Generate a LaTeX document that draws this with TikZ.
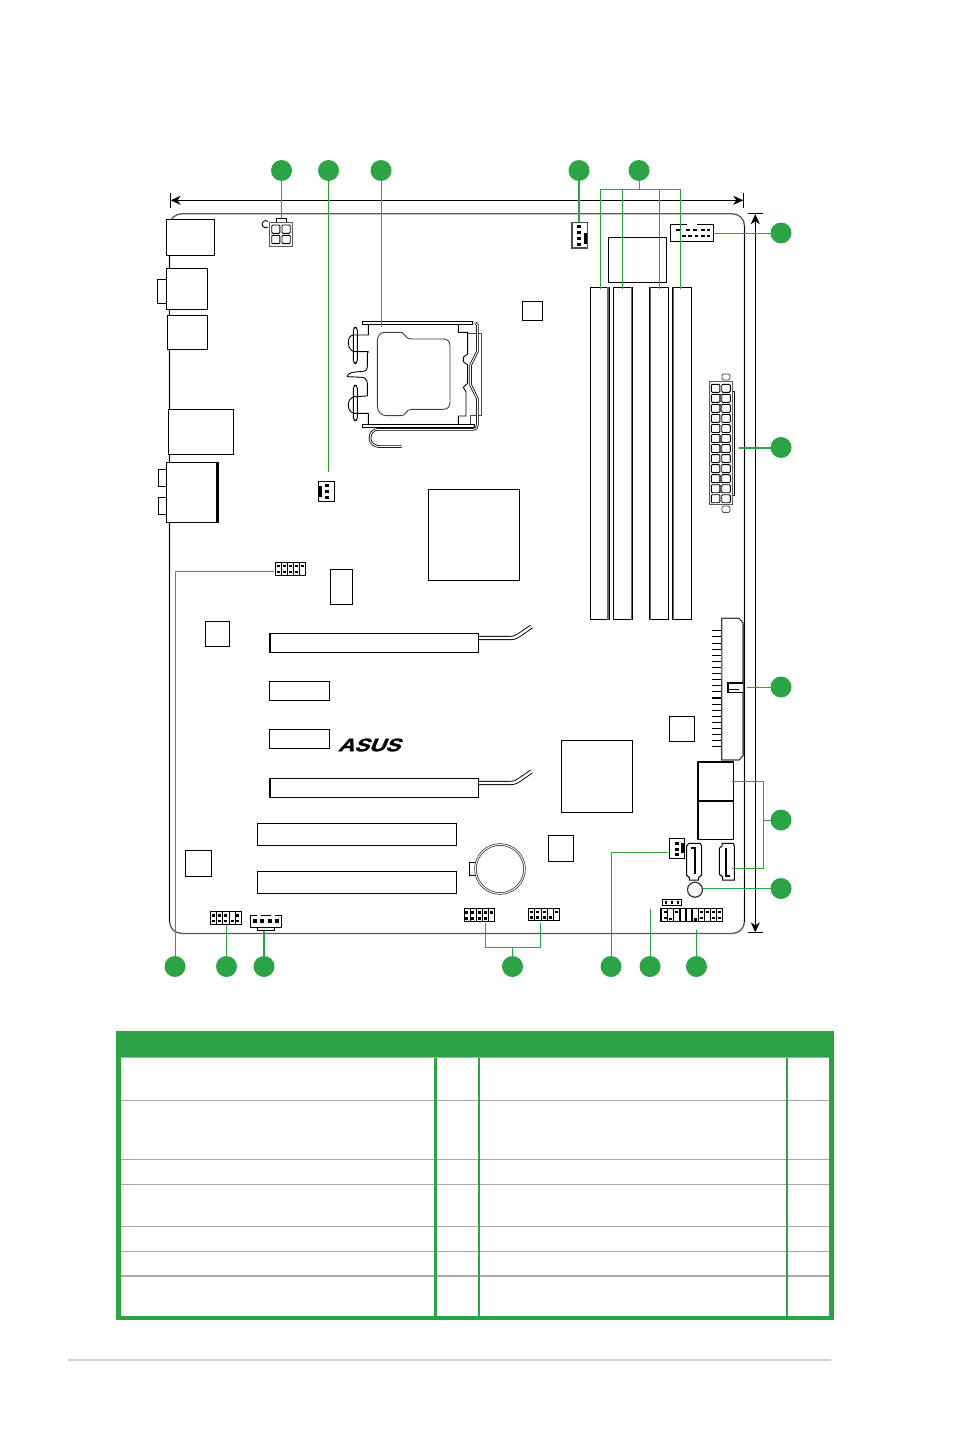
\documentclass[tikz,border=0pt]{standalone}
\usepackage{fontspec}
\usetikzlibrary{arrows.meta}
\newfontfamily\logofont[BoldFeatures={FakeBold=1.5}]{Liberation Sans}
\definecolor{badgegreen}{RGB}{44,163,69}
\definecolor{rulegray}{RGB}{167,169,172}
\definecolor{pagegray}{RGB}{209,210,211}
\tikzset{
    part/.style={draw, fill=white, line width=1pt, inner sep=0pt, outer sep=0pt},
    grayedge/.style={part, draw=black!65, line width=1.3pt},
    badge/.style={circle, fill=badgegreen, minimum size=21pt, inner sep=0pt, outer sep=0pt},
    lead/.style={draw=badgegreen, line width=1pt},
    thicklead/.style={draw=badgegreen, line width=2pt},
    dimline/.style={line width=.9pt, arrows={Bar[width=15pt,line width=.9pt].Stealth[length=10pt,width=9pt,inset=3pt]-Stealth[length=10pt,width=9pt,inset=3pt].Bar[width=15pt,line width=.9pt]}},
    lever/.style={draw=black, double=white, double distance=1pt, line width=.8pt, line join=round},
    thin/.style={line width=.9pt, line join=round},
}
\begin{document}
\begin{tikzpicture}[x=1pt, y=-1pt]
    \useasboundingbox (0, 0) rectangle (954, 1437);
    % board outline
    \node[grayedge, rounded corners=12pt, minimum width=575pt, minimum height=719.6pt] (board) at (457, 573.6) {};
    \draw[line width=1pt] (169.5, 226) -- (169.5, 922);
    \draw[line width=1pt] (744.5, 226) -- (744.5, 922);
    % back panel
    \node[part, minimum width=48pt, minimum height=36pt] (kbport) at (190.3, 237.3) {};
    \node[part, minimum width=9pt, minimum height=24pt] (optictab) at (161.8, 291.3) {};
    \node[part, minimum width=41.2pt, minimum height=41pt] (optic) at (186.9, 288.8) {};
    \node[part, minimum width=40.2pt, minimum height=34pt] (esata) at (187.4, 332.3) {};
    \node[part, minimum width=65pt, minimum height=44.7pt] (lanport) at (200.8, 431.65) {};
    \node[part, minimum width=8pt, minimum height=17.4pt] (audiotaba) at (162.3, 478) {};
    \node[part, minimum width=8pt, minimum height=17.4pt] (audiotabb) at (162.3, 506) {};
    \node[part, minimum width=52pt, minimum height=60pt] (audio) at (192.3, 492.3) {};
    \draw[line width=2pt] ([xshift=-1pt]audio.north east) -- ([xshift=-1pt]audio.south east);
    % 4 pin power
    \node[part, minimum width=10pt, minimum height=4pt] (atxtab) at (281.5, 220.3) {};
    \node[grayedge, minimum width=23.4pt, minimum height=24pt] (atxfour) at (281, 234.3) {};
    \draw[thin] (268, 227) arc[start angle=50, end angle=310, radius=3.6];
    \foreach \i in {271.7, 282}
        \foreach \j in {225, 235.3}
            \draw[thin, rounded corners=1pt] (\i, \j) rectangle ++(8.2, 8.3);
    % cpu socket
    \begin{scope}[shift={(150, 150)}, x=.3333pt, y=-.3333pt]
        \draw[part] (637, 514) rectangle (968, 523);
        \draw[part] (637, 824) rectangle (974, 833);
        \draw[thin, rounded corners=3pt] (610, 532) rectangle (622, 640);
        \draw[thin, rounded corners=3pt] (610, 706) rectangle (622, 812);
        \draw[thin] (655, 525) -- (655, 555) -- (612, 555) .. controls (600, 555) and (595, 565) .. (595, 578) .. controls (595, 595) and (605, 605) .. (615, 605) -- (655, 605) -- (652, 612) -- (652, 650) .. controls (652, 660) and (645, 664) .. (635, 665) .. controls (612, 665) and (592, 668) .. (592, 680) -- (635, 682) .. controls (645, 682) and (652, 690) .. (652, 700) -- (652, 738) -- (615, 740) .. controls (602, 742) and (595, 752) .. (595, 765) .. controls (595, 780) and (603, 790) .. (615, 790) -- (655, 790) -- (655, 822);
        \draw[thin, draw=black!75] (682, 575) .. controls (682, 555) and (692, 547) .. (705, 547) -- (755, 547) .. controls (765, 550) and (765, 567) .. (785, 567) -- (880, 567) .. controls (893, 567) and (900, 575) .. (900, 587) -- (900, 758) .. controls (900, 770) and (893, 778) .. (880, 778) -- (785, 778) .. controls (768, 778) and (768, 797) .. (755, 797) -- (710, 797) .. controls (692, 797) and (682, 785) .. (682, 765) -- cycle;
        \draw[thin] (925, 523) -- (925, 547) -- (953, 547) -- (953, 612) -- (940, 622) -- (940, 635) -- (953, 645) -- (953, 700) -- (940, 712) -- (948, 725) -- (948, 798) -- (925, 798) -- (925, 822);
        \draw[thin, draw=black!70] (953, 550) -- (995, 550) -- (995, 795) -- (960, 795) -- (960, 822);
        \draw[lever] (976, 518) -- (982, 525) -- (982, 605) -- (962, 645) -- (962, 705) -- (982, 745) -- (982, 825) .. controls (982, 834) and (978, 838) .. (970, 838) -- (685, 838) .. controls (668, 838) and (660, 852) .. (660, 865) .. controls (660, 880) and (675, 890) .. (690, 890) -- (755, 890);
    \end{scope}
    % chips
    \node[part, minimum width=20.4pt, minimum height=19pt] (chipa) at (532.5, 310.8) {};
    \node[part, minimum width=58.4pt, minimum height=45pt] (chipb) at (637.5, 259.8) {};
    \node[part, minimum width=91pt, minimum height=91pt] (northbridge) at (474, 535) {};
    \node[part, minimum width=22.5pt, minimum height=35pt] (chipc) at (341.3, 586.5) {};
    \node[part, minimum width=24pt, minimum height=25pt] (chipd) at (217.5, 633.5) {};
    \node[part, minimum width=71pt, minimum height=72pt] (southbridge) at (597, 776.5) {};
    \node[part, minimum width=25pt, minimum height=25pt] (chipe) at (681.8, 728.8) {};
    \node[part, minimum width=25pt, minimum height=25.5pt] (chipf) at (561, 848.3) {};
    \node[part, minimum width=25.5pt, minimum height=25.5pt] (chipg) at (198.3, 863.3) {};
    % memory slots
    \foreach \d/\x in {dimma/599.65, dimmb/622.8, dimmc/659.2, dimmd/682.2} {
        \node[part, minimum width=18.8pt, minimum height=332.2pt] (\d) at (\x, 453.4) {};
    }
    \draw[draw=black!60, line width=1.2pt] ([xshift=-1pt]dimma.north east) -- ([xshift=-1pt]dimma.south east);
    \draw[draw=black!60, line width=1.2pt] ([xshift=-.5pt]dimmb.north east) -- ([xshift=-.5pt]dimmb.south east);
    \draw[draw=black!60, line width=1.2pt] ([xshift=1pt]dimmc.north west) -- ([xshift=1pt]dimmc.south west);
    \draw[draw=black!60, line width=1.2pt] ([xshift=1pt]dimmd.north west) -- ([xshift=1pt]dimmd.south west);
    % expansion slots
    \foreach \y/\n in {0/pcieb, 145/pciec} {
        \draw[lever, line width=.9pt, double distance=2.4pt] (478.5, 638+\y) -- (510, 638+\y) .. controls (515, 638+\y) and (517, 636.5+\y) .. (520, 634.5+\y) -- (531.5, 626.5+\y);
        \node[part, minimum width=209pt, minimum height=19pt] (\n) at (374, 642.8+\y) {};
        \draw[line width=1.4pt] ([xshift=.7pt]\n.north west) -- ([xshift=.7pt]\n.south west);
    }
    \node[part, minimum width=60pt, minimum height=19.5pt] (pcixa) at (299.5, 690.8) {};
    \node[part, minimum width=60pt, minimum height=19pt] (pcixb) at (299.5, 739) {};
    \node[part, minimum width=199pt, minimum height=22.5pt] (pcia) at (357, 834.3) {};
    \node[part, minimum width=199pt, minimum height=22pt] (pcib) at (357, 882.5) {};
    \node[transform shape, xscale=1.24, xslant=.35, inner sep=0pt] (logo) at (371.5, 745) {\logofont\bfseries\fontsize{18}{18}\selectfont ASUS};
    % 24 pin power
    \draw[thin, draw=black!70, rounded corners=1.5pt] (722, 374) rectangle (730, 380);
    \draw[thin, draw=black!70, rounded corners=1.5pt] (722, 506) rectangle (730, 512.5);
    \draw[thin] (733, 391.3) -- (734.7, 391.3) -- (734.7, 495.3) -- (733, 495.3);
    \node[grayedge, minimum width=23.4pt, minimum height=123.4pt] (atxmain) at (721, 443) {};
    \foreach \j in {0, ..., 11} {
        \draw[thin, rounded corners=1pt] (711.3, 384.3+10.04*\j) rectangle ++(8.6, 8);
        \draw[thin, rounded corners=1pt] (721.7, 384.3+10.04*\j) rectangle ++(8.6, 8);
    }
    \foreach \j in {1, 2, 5, 6, 9, 10}
        \fill[black!65] (719.9, 384.3+10.04*\j) rectangle ++(1.8, 8);
    % ide
    \foreach \j in {0, ..., 19} {
        \draw[line width=.7pt] (712, 630.7+6.1*\j) -- (721.7, 630.7+6.1*\j);
    }
    \foreach \j in {0, 6, 7, 8, 9, 10, 11, 17, 18, 19} {
        \draw[line width=1.5pt] (712, 630.7+6.1*\j) -- (721.7, 630.7+6.1*\j);
    }
    \draw[draw=black!75, fill=white, line width=1.2pt] (721.7, 618.3) -- (739, 618.3) -- (743, 622.7) -- (743, 755.7) -- (739, 760) -- (721.7, 760) -- cycle;
    \draw[draw=black!70, line width=1.3pt] (743.2, 624) -- (743.2, 755);
    \draw[line width=1.6pt, fill=white] (743, 682.8) -- (727.7, 682.8) -- (727.7, 692.5) -- (743, 692.5);
    \draw[line width=1.4pt] (729, 689.5) -- (739, 689.5);
    % sata
    \node[part, minimum width=36pt, minimum height=38.7pt] (satab) at (715.7, 820) {};
    \node[part, minimum width=36pt, minimum height=38.7pt] (sataa) at (715.7, 781.3) {};
    \draw[line width=2pt] (698, 839.3) -- (698, 762) -- (733.7, 762);
    \draw[line width=2pt] (698, 800.7) -- (733.7, 800.7);
    \draw[part] (688.7, 843.3) -- (700, 843.3) -- (701.7, 846) -- (701.7, 875) -- (698.5, 877.7) -- (698.5, 880) -- (689.3, 880) -- (689.3, 877.7) -- (686.7, 875) -- (686.7, 846) -- cycle;
    \draw[line width=1.8pt] (691, 847.7) -- (695, 847.7) -- (695, 874.3);
    \draw[part] (722, 843.3) -- (733, 843.3) -- (734.3, 846) -- (734.3, 880) -- (722.7, 880) -- (722.7, 876.7) -- (719.3, 874.3) -- (719.3, 848.3) -- (722, 846) -- cycle;
    \draw[line width=1.8pt] (726, 848.3) -- (726, 875.7) -- (730, 875.7);
    % battery and buzzer
    \node[part, minimum width=8pt, minimum height=12.7pt] (battab) at (473, 869.3) {};
    \node[part, circle, draw=black!85, double, double distance=1pt, line width=.7pt, minimum size=49pt] (battery) at (500, 869) {};
    \node[part, circle, draw=black!80, line width=1.2pt, minimum size=15pt] (buzzer) at (695, 889.7) {};
    % headers
    \node[part, minimum width=43.4pt, minimum height=17pt] (comhdr) at (692, 232.8) {};
    \draw[white, line width=1.4pt] (687, 224.3) -- (697, 224.3);
    \foreach \i/\j in {678/228.5, 688/228.5, 695/228.5, 703/228.5, 708.5/228.5, 684/234.5, 690/234.5, 696.5/234.5, 703/234.5, 708.5/234.5}
        \fill (\i-1.6, \j) rectangle ++(3.2, 2.4);
    \node[part, draw=black!70, line width=1.2pt, minimum width=15.7pt, minimum height=25.7pt] (fantop) at (579.85, 235.2) {};
    \foreach \j in {224.8, 230.8, 236.6, 242.5}
        \fill (577, \j) rectangle ++(4, 3.4);
    \fill (584, 233.3) rectangle (587.3, 244);
    \node[part, line width=1.3pt, minimum width=16pt, minimum height=20pt] (fancpu) at (326.3, 491.3) {};
    \fill (318.3, 485.7) rectangle (322, 497);
    \foreach \j in {483.5, 489.5, 495.5}
        \fill (325, \j) rectangle ++(4, 3.2);
    \node[part, minimum width=30.4pt, minimum height=13pt] (hdrspdif) at (290.5, 568.8) {};
    \foreach \i in {281.3, 287.3, 293.3, 299.3}
        \draw (\i, 562.3) -- (\i, 575.3);
    \foreach \i/\j in {278.3/564.5, 278.3/570.5, 284.3/564.5, 284.3/570.5, 290.3/564.5, 290.3/570.5, 296.3/564.5, 296.3/570.5, 302.3/564.5}
        \fill (\i-1.5, \j) rectangle ++(3, 2.6);
    \node[part, minimum width=31pt, minimum height=12.7pt] (hdraudio) at (225.8, 918.3) {};
    \foreach \i in {216.5, 222.5, 229, 235}
        \draw (\i, 912) -- (\i, 924.7);
    \foreach \i/\j in {213.3/914, 219.7/914, 225.7/914, 237.8/914, 213.3/919.5, 219.7/919.5, 225.7/919.5, 232/919.5, 237.8/919.5}
        \fill (\i-1.5, \j) rectangle ++(3, 2.6);
    \node[part, minimum height=3.3pt, minimum width=17.4pt, line width=1.4pt] (fanchaledge) at (266, 929) {};
    \node[part, minimum width=31.4pt, minimum height=12pt] (fancha) at (266, 921.3) {};
    \draw[white, line width=1.2pt] (257, 915.3) -- (261, 915.3) (271, 915.3) -- (275, 915.3);
    \foreach \i in {255, 262.3, 269.7, 277}
        \fill (\i-2, 919.3) rectangle ++(4, 3.4);
    \node[part, line width=1.2pt, minimum width=30.4pt, minimum height=13.4pt] (usba) at (479.5, 915) {};
    \foreach \i in {469.7, 475.8, 482, 488}
        \draw (\i, 908.3) -- (\i, 921.7);
    \foreach \i/\j in {466.7/911, 472.7/911, 479/911, 485/911, 491/911, 466.7/917, 472.7/917, 479/917, 485/917}
        \fill (\i-1.5, \j) rectangle ++(3, 2.6);
    \node[part, minimum width=31.4pt, minimum height=12.4pt] (usbb) at (544, 914.5) {};
    \foreach \i in {534.5, 541, 547, 553}
        \draw (\i, 908.3) -- (\i, 920.7);
    \foreach \i/\j in {531/910.5, 537.7/910.5, 544/910.5, 556.3/910.5, 531/916, 537.7/916, 544/916, 550/916}
        \fill (\i-1.5, \j) rectangle ++(3, 2.6);
    \node[part, minimum width=15.4pt, minimum height=20pt] (fansys) at (677, 848.3) {};
    \foreach \j in {842, 848, 853.3}
        \fill (675, \j) rectangle ++(3.6, 3);
    \fill (681, 843.3) rectangle (684.3, 853.3);
    \node[part, minimum width=19.4pt, minimum height=6.4pt] (jumper) at (672, 902.5) {};
    \foreach \i in {666, 672, 678}
        \fill (\i-1.3, 901) rectangle ++(2.6, 3);
    \node[part, line width=1.5pt, minimum width=61.7pt, minimum height=13.4pt] (panel) at (691.8, 915) {};
    \foreach \i in {667.8, 673.8, 680, 686, 692, 698.5, 704.6, 710.7, 716.8}
        \draw[line width=1.1pt] (\i, 908.3) -- (\i, 921.7);
    \foreach \i/\j in {665/910.5, 665/916.5, 670.7/917.5, 676.7/910.5, 695.3/918, 701.7/910.5, 701.7/916.5, 707.7/910.5, 713.7/910.5, 713.7/916.5, 719.7/910.5, 719.7/916.5}
        \fill (\i-1.5, \j) rectangle ++(3, 2.6);
    % dimension arrows
    \coordinate (widthl) at (169.7, 200.3);
    \coordinate (widthr) at (744.2, 200.3);
    \coordinate (heightt) at (755.3, 213.3);
    \coordinate (heightb) at (755.3, 933.3);
    \draw[dimline] (widthl) -- (widthr);
    \draw[dimline] (heightt) -- (heightb);
    % callouts
    \foreach \n/\x in {topa/281.5, topb/328.5, topc/381, topd/579, tope/639} {
        \node[badge] (\n) at (\x, 170.5) {};
    }
    \foreach \n/\y in {righta/233, rightb/447.5, rightc/687, rightd/820, righte/888.5} {
        \node[badge] (\n) at (781, \y) {};
    }
    \foreach \n/\x in {bota/175, botb/226.5, botc/264, botd/512.5, bote/611, botf/650, botg/696.5} {
        \node[badge] (\n) at (\x, 966.5) {};
    }
    \coordinate (fanend) at (328.5, 472);
    \coordinate (cpuend) at (381, 326.7);
    \coordinate (ramfork) at (639, 189.5);
    \coordinate (atxend) at (739, 447.5);
    \coordinate (ideend) at (746.7, 687);
    \coordinate (satafork) at (763.7, 820);
    \coordinate (sataenda) at (732.3, 781.3);
    \coordinate (sataendb) at (732.3, 868.3);
    \coordinate (spdifend) at (274, 571);
    \coordinate (usbfork) at (512.5, 947.3);
    \coordinate (usbenda) at (485.7, 923.3);
    \coordinate (usbendb) at (540.3, 923.3);
    \coordinate (sysend) at (668.3, 852.3);
    \coordinate (jumperend) at (650, 909);
    \coordinate (panelend) at (696.5, 930);
    \draw[lead] (topa) -- (atxtab.north);
    \draw[lead] (topb) -- (fanend);
    \draw[lead] (topc) -- (cpuend);
    \draw[thicklead] (topd) -- (topd |- fantop.north);
    \draw[lead] (tope) -- (ramfork);
    \foreach \d/\s in {dimma/.65, dimmb/-.5, dimmc/0, dimmd/-1.9}
        \draw[lead] ([xshift=\s pt, yshift=-2pt]\d.north) |- (ramfork);
    \draw[lead] (righta) -- (righta -| comhdr.east);
    \draw[thicklead] (rightb) -- (atxend);
    \draw[lead] (rightc) -- (ideend);
    \draw[lead, line width=.8pt] (721.7, 650) -- (721.7, 679);
    \draw[lead] (rightd) -- (satafork);
    \draw[lead] (sataenda) -| (satafork) |- (sataendb);
    \draw[lead] (righte) -- (righte -| buzzer.east);
    \draw[lead] (bota) |- (spdifend);
    \draw[lead] (botb) -- (botb |- hdraudio.south);
    \draw[thicklead] (botc) -- (botc |- fanchaledge.south);
    \draw[lead] (botd) -- (usbfork);
    \draw[lead] (usbenda) |- (usbfork);
    \draw[lead] (usbendb) |- (usbfork);
    \draw[lead, line width=1.6pt] (usbfork -| usbenda) -- (usbfork -| usbendb);
    \draw[lead] (bote) |- (sysend);
    \draw[lead] (botf) -- (jumperend);
    \draw[lead] (botg) -- (panelend);
    % table
    \fill[badgegreen] (116, 1031) rectangle (834, 1058);
    \fill[rulegray] (121, 1057) rectangle (829, 1058);
    \foreach \y in {1100.3, 1159.3, 1184.3, 1226.3, 1251.3}
        \draw[rulegray, line width=1.1pt] (121, \y) -- (829, \y);
    \draw[rulegray, line width=1.8pt] (121, 1275.7) -- (829, 1275.7);
    \fill[badgegreen] (116, 1031) rectangle (121, 1320);
    \fill[badgegreen] (829, 1031) rectangle (834, 1320);
    \fill[badgegreen] (116, 1316) rectangle (834, 1320);
    \fill[badgegreen] (434, 1058) rectangle (437.3, 1316);
    \fill[badgegreen] (478, 1058) rectangle (479.6, 1316);
    \fill[badgegreen] (786, 1058) rectangle (787.6, 1316);
    % page rule
    \draw[pagegray, line width=1.6pt] (68, 1360) -- (831, 1360);
\end{tikzpicture}
\end{document}
